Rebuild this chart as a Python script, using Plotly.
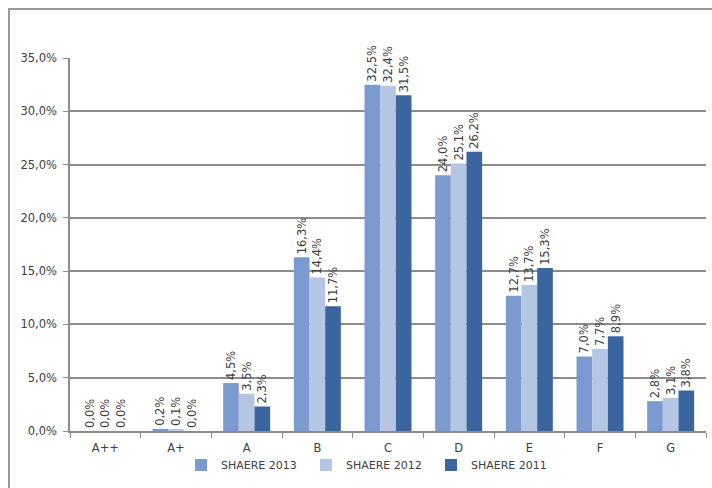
import plotly.graph_objects as go

categories = ["A++", "A+", "A", "B", "C", "D", "E", "F", "G"]
series_names = ["SHAERE 2013", "SHAERE 2012", "SHAERE 2011"]
shaere_2013 = [0.0, 0.2, 4.5, 16.3, 32.5, 24.0, 12.7, 7.0, 2.8]
shaere_2012 = [0.0, 0.1, 3.5, 14.4, 32.4, 25.1, 13.7, 7.7, 3.1]
shaere_2011 = [0.0, 0.0, 2.3, 11.7, 31.5, 26.2, 15.3, 8.9, 3.8]
colors = ["#7b9bd0", "#b4c6e4", "#3b659f"]

W, H = 712, 488
L, R, T, B = 70, 6, 58, 57
pw, ph = W - L - R, H - T - B

fig = go.Figure()
for name, vals, col in zip(series_names, [shaere_2013, shaere_2012, shaere_2011], colors):
    fr = [v / 100 for v in vals]
    fig.add_trace(go.Bar(
        x=categories, y=fr, name=name, marker=dict(color=col, line=dict(width=0)),
        text=[f"{v:.1f}%".replace(".", ",") for v in vals],
        textposition="outside", textangle=-90, constraintext="none",
        cliponaxis=False,
        textfont=dict(family="DejaVu Sans", size=11.5, color="#404040"),
    ))

def px(x):
    return (x - L) / pw

def py(y):
    return (H - B - y) / ph

fig.update_layout(
    width=W, height=H,
    margin=dict(l=L, r=R, t=T, b=B),
    paper_bgcolor="white", plot_bgcolor="white",
    barmode="group", bargap=0.335, bargroupgap=0,
    separators=",.",
    font=dict(family="DejaVu Sans", size=11, color="#404040"),
    showlegend=True,
    legend=dict(orientation="h", x=px(181), xanchor="left", y=py(465), yanchor="middle",
                font=dict(size=11, color="#404040"), itemwidth=30, traceorder="normal",
                entrywidth=80, entrywidthmode="pixels",
                bgcolor="rgba(0,0,0,0)"),
    xaxis=dict(showline=True, linecolor="#8c8c8c", linewidth=1.5, ticks="outside",
               tickson="boundaries", ticklen=5, tickcolor="#8c8c8c", showgrid=False,
               ticklabelstandoff=5,
               tickfont=dict(size=11.5, color="#404040")),
    yaxis=dict(range=[0, 0.35], dtick=0.05, tickformat=".1%", showline=True,
               linecolor="#8c8c8c", linewidth=1.5, ticks="outside", ticklen=5,
               tickcolor="#8c8c8c", showgrid=True, gridcolor="#8c8c8c", gridwidth=1.5,
               ticklabelstandoff=4,
               zeroline=False, tickfont=dict(size=11.5, color="#404040")),
    shapes=[dict(type="rect", xref="paper", yref="paper",
                 x0=px(9), x1=px(740), y0=py(520), y1=py(9),
                 line=dict(color="#999999", width=2), fillcolor="rgba(0,0,0,0)", layer="below")],
)

fig.write_html("out.html")
